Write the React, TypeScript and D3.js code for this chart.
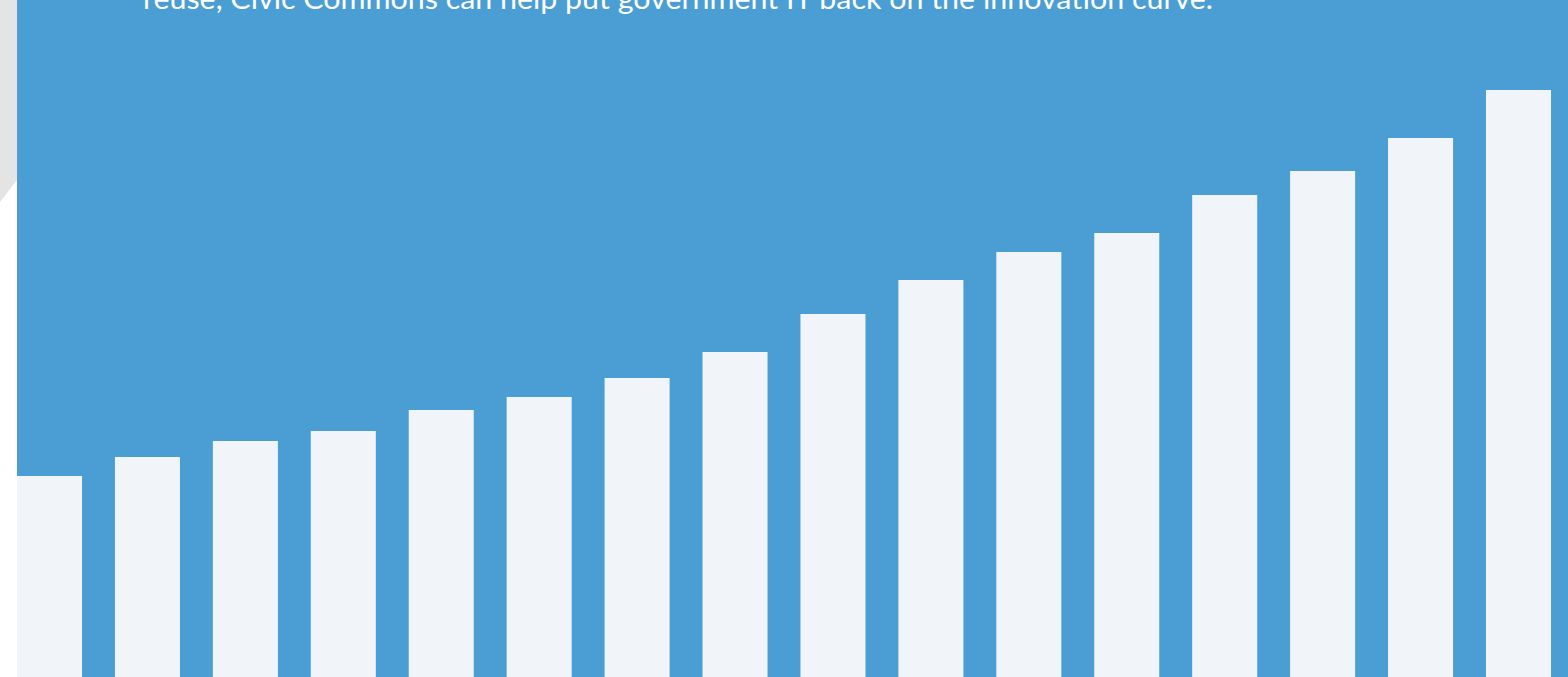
import React from "react";
import * as d3 from "d3";

const W = 1568;
const H = 677;

const categories = ["1", "2", "3", "4", "5", "6", "7", "8", "9", "10", "11", "12", "13", "14", "15", "16"];
const values = [201, 220, 236, 246, 267, 280, 299, 325, 363, 397, 425, 444, 482, 506, 539, 587];
const captionText = "reuse, Civic Commons can help put government IT back on the innovation curve.";

export default function App() {
  const x = d3
    .scaleBand<string>()
    .domain(categories)
    .range([17, 1551])
    .paddingInner(0.336)
    .paddingOuter(0)
    .align(0);
  const y = d3.scaleLinear().domain([0, 587]).range([H, 90]);

  return (
    <svg
      width={W}
      height={H}
      style={{ position: "fixed", left: 0, top: 0, display: "block" }}
    >
      <rect x={0} y={0} width={W} height={H} fill="#ffffff" />
      <polygon points="0,0 17,0 17,180 0,202" fill="#e4e4e4" />
      <rect x={17} y={0} width={W - 17} height={H} fill="#4a9ed4" />
      <text
        x={143}
        y={9}
        fill="#ffffff"
        fontFamily="Lato, 'Open Sans', sans-serif"
        fontSize={28}
        textLength={1070}
        lengthAdjust="spacingAndGlyphs"
      >
        {captionText}
      </text>
      {categories.map((c, i) => (
        <rect
          key={c}
          x={x(c)}
          y={y(values[i])}
          width={x.bandwidth()}
          height={H - y(values[i])}
          fill="#f1f5fa"
        />
      ))}
    </svg>
  );
}
